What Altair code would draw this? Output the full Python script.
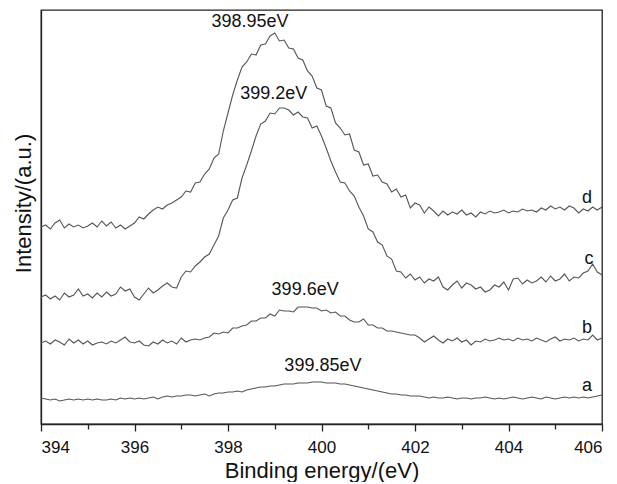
import altair as alt
import pandas as pd

# Binding energy grid (eV), 0.1 eV steps from 394 to 406
energy = [round(394 + i * 0.1, 1) for i in range(121)]

# Intensities (a.u.), one value per 0.1 eV
curve_a = [26, 25, 24, 25, 23, 24, 25, 24, 25, 24,
           25, 24, 25, 24, 24, 25, 24, 26, 25, 26,
           25, 26, 25, 26, 27, 25, 27, 28, 27, 28,
           28, 29, 29, 28, 29, 30, 28, 30, 31, 31,
           32, 32, 33, 32, 34, 35, 36, 37, 37, 38,
           38, 39, 40, 40, 40, 41, 41, 41, 42, 42,
           42, 41, 41, 41, 40, 40, 39, 38, 37, 36,
           35, 34, 33, 32, 31, 30, 30, 29, 29, 28,
           28, 28, 27, 26, 27, 26, 26, 27, 26, 25,
           26, 26, 25, 26, 26, 27, 26, 25, 26, 25,
           26, 27, 26, 25, 26, 27, 26, 25, 27, 26,
           25, 26, 27, 26, 27, 26, 27, 26, 27, 28,
           29]

curve_b = [81, 83, 80, 84, 82, 79, 85, 81, 84, 80,
           83, 79, 81, 82, 80, 83, 81, 84, 87, 82,
           81, 83, 79, 78, 82, 80, 84, 81, 83, 80,
           86, 82, 84, 85, 84, 86, 87, 91, 90, 92,
           91, 96, 96, 98, 99, 103, 103, 106, 106, 110,
           108, 114, 113, 113, 112, 117, 117, 117, 116, 116,
           113, 114, 111, 112, 108, 108, 104, 102, 102, 105,
           99, 99, 96, 96, 93, 93, 92, 91, 90, 89,
           89, 86, 82, 85, 88, 84, 81, 85, 83, 86,
           82, 84, 79, 83, 82, 85, 83, 84, 86, 84,
           85, 83, 86, 84, 85, 83, 86, 84, 82, 85,
           87, 83, 85, 84, 86, 83, 85, 84, 89, 84,
           86]

curve_c = [127, 129, 125, 128, 124, 131, 127, 129, 135, 128,
           130, 126, 131, 127, 132, 128, 130, 137, 133, 135,
           127, 124, 130, 136, 131, 134, 138, 141, 137, 136,
           147, 153, 152, 158, 162, 167, 170, 179, 188, 206,
           214, 224, 226, 246, 259, 273, 288, 300, 303, 311,
           310, 316, 316, 314, 309, 312, 307, 306, 296, 298,
           288, 276, 263, 252, 242, 241, 233, 228, 217, 208,
           195, 192, 182, 179, 168, 165, 153, 152, 146, 150,
           144, 147, 141, 145, 143, 147, 137, 134, 139, 143,
           136, 141, 139, 135, 137, 132, 134, 139, 137, 142,
           134, 145, 146, 140, 144, 141, 143, 147, 142, 148,
           143, 145, 150, 143, 147, 146, 151, 153, 160, 152,
           149]

curve_d = [197, 199, 195, 201, 204, 196, 200, 197, 199, 196,
           198, 201, 197, 203, 198, 202, 196, 199, 195, 198,
           201, 207, 205, 210, 214, 217, 215, 219, 221, 224,
           227, 233, 232, 241, 242, 250, 255, 266, 270, 293,
           311, 329, 344, 357, 362, 370, 369, 379, 380, 388,
           391, 383, 384, 376, 375, 366, 364, 353, 348, 336,
           334, 318, 316, 301, 296, 289, 290, 274, 272, 259,
           260, 248, 249, 242, 240, 232, 235, 227, 229, 216,
           221, 219, 211, 217, 213, 208, 213, 209, 212, 210,
           214, 209, 211, 207, 212, 210, 213, 211, 212, 214,
           211, 213, 212, 215, 213, 214, 212, 216, 214, 218,
           215, 217, 214, 218, 216, 211, 215, 213, 217, 214,
           217]

series_names = ["a", "b", "c", "d"]
peak_labels = ["399.85eV", "399.6eV", "399.2eV", "398.95eV"]

rows = []
for name, vals in zip(series_names, [curve_a, curve_b, curve_c, curve_d]):
    for e, v in zip(energy, vals):
        rows.append({"energy": e, "intensity": v, "sample": name})
df = pd.DataFrame(rows)

# annotation placement (data coordinates)
ann = pd.DataFrame({
    "text": peak_labels + series_names,
    "x": [400.03, 399.65, 398.98, 398.47, 405.68, 405.68, 405.72, 405.68],
    "y": [58, 134, 330, 402, 38, 96, 165, 226],
})

FONT = "Liberation Sans"
x_scale = alt.Scale(domain=[394, 406], nice=False, zero=False)
y_scale = alt.Scale(domain=[0, 414], nice=False, zero=False)

lines = alt.Chart(df).mark_line(color="#555555", strokeWidth=1.1).encode(
    x=alt.X("energy:Q", scale=x_scale, axis=alt.Axis(
        title="Binding energy/(eV)",
        values=list(range(394, 407)),
        labelExpr="datum.value % 2 == 0 ? datum.label : ''",
        tickSize={"condition": {"test": "datum.value % 2 == 0", "value": 7}, "value": 5},
        tickColor="#222222", tickWidth=1.3,
        domainColor="#222222", domainWidth=1.3,
        labelFont=FONT, labelFontSize=17, labelColor="#111111", labelPadding=8,
        titleFont=FONT, titleFontSize=22, titleFontWeight="normal", titleColor="#111111",
        titleBaseline="alphabetic", titleY=53,
        grid=False,
    )),
    y=alt.Y("intensity:Q", scale=y_scale, axis=alt.Axis(
        title="Intensity/(a.u.)",
        labels=False, ticks=False, grid=False,
        domainColor="#222222", domainWidth=1.3,
        titleFont=FONT, titleFontSize=22, titleFontWeight="normal", titleColor="#111111",
        titleAngle=270, titleAlign="center", titleBaseline="middle",
        titleX=-18, titleY=193,
    )),
    detail="sample:N",
)

texts = alt.Chart(ann).mark_text(font=FONT, fontSize=18, color="#111111",
                                 align="center", baseline="middle").encode(
    x=alt.X("x:Q", scale=x_scale),
    y=alt.Y("y:Q", scale=y_scale),
    text="text:N",
)

chart = alt.layer(lines, texts).properties(
    width=561, height=414,
    autosize=alt.AutoSizeParams(type="none"),
    padding={"left": 33, "top": 2, "right": 7, "bottom": 58},
).configure_view(stroke="#222222", strokeWidth=1.3)

chart.save("out.html", embed_options={"renderer": "svg", "actions": False})
